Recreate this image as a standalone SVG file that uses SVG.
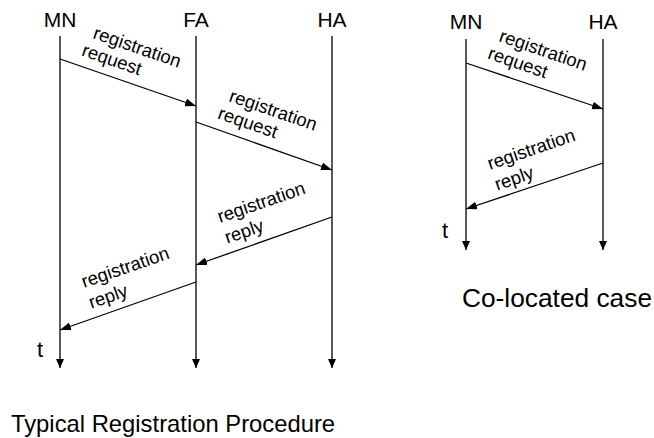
<svg xmlns="http://www.w3.org/2000/svg" width="654" height="438" viewBox="0 0 654 438">
  <style>
    text { font-family: "Liberation Sans", Arial, sans-serif; fill: #000; }
    .head { font-size: 21px; text-anchor: middle; }
    .lbl { font-size: 18.5px; }
    .tm { font-size: 22px; }
    .cap { font-size: 23.8px; }
    .life { stroke: #222; stroke-width: 1.5; fill: none; }
    .msg { stroke: #000; stroke-width: 1.3; fill: none; }
  </style>
  <defs>
    <marker id="head" markerUnits="userSpaceOnUse" markerWidth="12" markerHeight="10" refX="11" refY="4" orient="auto">
      <path d="M0,0 L11,4 L0,8 Z" fill="#000"/>
    </marker>
    <marker id="down" markerUnits="userSpaceOnUse" markerWidth="12" markerHeight="10" refX="9" refY="4" orient="auto">
      <path d="M0,0 L9,4 L0,8 Z" fill="#000"/>
    </marker>
  </defs>

  <!-- Typical registration: MN, FA, HA -->
  <g id="mn">
    <text class="head" x="60" y="27">MN</text>
    <line class="life" x1="60" y1="36" x2="60" y2="368" marker-end="url(#down)"/>
    <text class="tm" x="37" y="357">t</text>
  </g>
  <g id="fa">
    <text class="head" x="196" y="27">FA</text>
    <line class="life" x1="196" y1="36" x2="196" y2="368" marker-end="url(#down)"/>
  </g>
  <g id="ha">
    <text class="head" x="332" y="27">HA</text>
    <line class="life" x1="332" y1="36" x2="332" y2="368" marker-end="url(#down)"/>
  </g>

  <!-- Co-located case: MN, HA -->
  <g id="mn2">
    <text class="head" x="466" y="29">MN</text>
    <line class="life" x1="466" y1="39" x2="466" y2="250" marker-end="url(#down)"/>
    <text class="tm" x="442" y="238">t</text>
  </g>
  <g id="ha2">
    <text class="head" x="603" y="29">HA</text>
    <line class="life" x1="603" y1="39" x2="603" y2="250" marker-end="url(#down)"/>
  </g>

  <!-- message arrows -->
  <g id="connectors">
    <line class="msg" x1="60" y1="59" x2="196" y2="106" marker-end="url(#head)"/>
    <line class="msg" x1="196" y1="122" x2="332" y2="170" marker-end="url(#head)"/>
    <line class="msg" x1="332" y1="217" x2="196" y2="265" marker-end="url(#head)"/>
    <line class="msg" x1="196" y1="282" x2="60" y2="330" marker-end="url(#head)"/>
    <line class="msg" x1="466" y1="63" x2="603" y2="109" marker-end="url(#head)"/>
    <line class="msg" x1="603" y1="163" x2="466" y2="209" marker-end="url(#head)"/>
  </g>

  <!-- message labels -->
  <g id="labels">
    <g transform="translate(92,38) rotate(19)">
      <text class="lbl" x="0" y="0">registration</text>
      <text class="lbl" x="-5" y="20">request</text>
    </g>
    <g transform="translate(228,101) rotate(19)">
      <text class="lbl" x="0" y="0">registration</text>
      <text class="lbl" x="-5" y="20">request</text>
    </g>
    <g transform="translate(220,223) rotate(-19)">
      <text class="lbl" x="0" y="0">registration</text>
      <text class="lbl" x="0" y="22">reply</text>
    </g>
    <g transform="translate(84,288) rotate(-19)">
      <text class="lbl" x="0" y="0">registration</text>
      <text class="lbl" x="0" y="22">reply</text>
    </g>
    <g transform="translate(498,41) rotate(19)">
      <text class="lbl" x="0" y="0">registration</text>
      <text class="lbl" x="-5" y="20">request</text>
    </g>
    <g transform="translate(490,170) rotate(-19)">
      <text class="lbl" x="0" y="0">registration</text>
      <text class="lbl" x="0" y="22">reply</text>
    </g>
  </g>

  <text class="cap" x="11" y="432">Typical Registration Procedure</text>
  <text x="462" y="307" style="font-size:26.3px">Co-located case</text>
</svg>
